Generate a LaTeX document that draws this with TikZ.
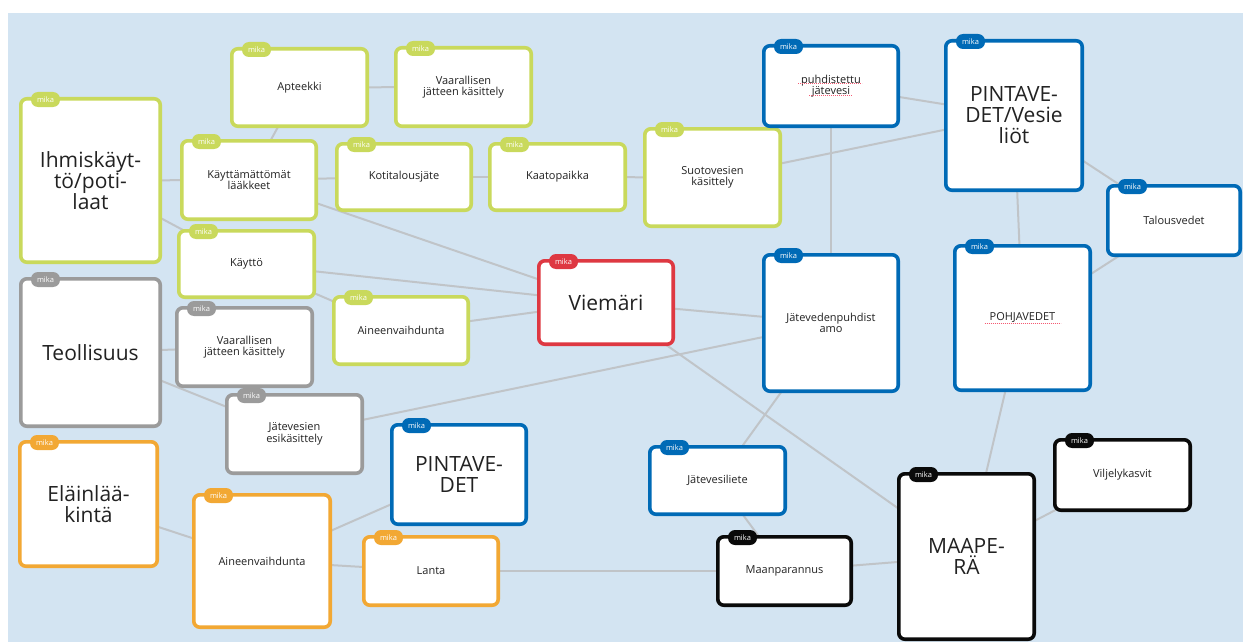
\documentclass[tikz,border=0pt]{standalone}
\usepackage{fontspec}
\setmainfont{Open Sans}
\usepackage{tikz}

\definecolor{mapbg}{RGB}{211,228,242}
\definecolor{linkgray}{RGB}{192,196,200}
\definecolor{cgreen}{RGB}{201,217,92}
\definecolor{cgray}{RGB}{155,155,155}
\definecolor{cblue}{RGB}{0,106,182}
\definecolor{cred}{RGB}{222,56,66}
\definecolor{corange}{RGB}{242,168,52}
\definecolor{cblack}{RGB}{10,10,10}
\definecolor{cardtext}{RGB}{34,34,34}
\definecolor{spellred}{RGB}{245,90,115}

\pgfdeclarelayer{back}
\pgfdeclarelayer{links}
\pgfsetlayers{back,links,main}

\tikzset{
  card/.style={draw, fill=white, line width=3.6pt, rounded corners=6pt, inner sep=0pt,
    align=center, text=cardtext, font=\fontsize{11}{11.5}\selectfont},
  big/.style={font=\fontsize{21}{21}\selectfont},
  dims/.style 2 args={minimum width=#1pt-3.6pt, minimum height=#2pt-3.6pt},
  tag/.style={fill=#1, rounded corners=7pt, minimum width=29pt, minimum height=15pt,
    inner sep=0pt, text=white, font=\fontsize{7.5}{7.5}\selectfont},
  tagged/.style={card, draw=#1, append after command={
    node[tag=#1] at ([xshift=26.5pt,yshift=-2.5pt]\tikzlastnode.north west) {mika}}},
  greencard/.style={tagged=cgreen},
  graycard/.style={tagged=cgray},
  bluecard/.style={tagged=cblue},
  redcard/.style={tagged=cred},
  orangecard/.style={tagged=corange},
  blackcard/.style={tagged=cblack},
  link/.style={draw=linkgray, line width=2pt},
  spell/.style={draw=spellred, line width=1pt, dash pattern=on 1.2pt off 0.8pt},
}

\begin{document}
\begin{tikzpicture}[x=1pt,y=-1pt]
  \useasboundingbox (0,0) rectangle (1243,642);
  \begin{pgfonlayer}{back}
    \fill[white] (0,0) rectangle (1243,642);
    \fill[mapbg] (8,13) rectangle (1243,642);
  \end{pgfonlayer}

  % ihmiskaytto
  \node[greencard, big, dims={143}{167}] (ihmis) at (90.5,180.5) {Ihmiskäyt-\\tö/poti-\\laat};
  \node[greencard, dims={139}{81}] (apteekki) at (299.5,87.5) {Apteekki};
  \node[greencard, dims={139}{82}] (vaarA) at (463.5,87) {Vaarallisen\\jätteen käsittely};
  \node[greencard, dims={138}{82}] (laakkeet) at (249,180) {Käyttämättömät\\lääkkeet};
  \node[greencard, dims={138}{70}] (kotital) at (404,177) {Kotitalousjäte};
  \node[greencard, dims={139}{70}] (kaato) at (557.5,177) {Kaatopaikka};
  \node[greencard, dims={139}{101}] (suoto) at (712.5,177.5) {Suotovesien\\käsittely};
  \node[greencard, dims={139}{70}] (kaytto) at (246.5,264) {Käyttö};
  \node[greencard, dims={138}{71}] (aineA) at (401,330.5) {Aineenvaihdunta};

  % teollisuus
  \node[graycard, big, dims={143}{151}] (teoll) at (90.5,352.5) {Teollisuus};
  \node[graycard, dims={139}{82}] (vaarB) at (244.5,347) {Vaarallisen\\jätteen käsittely};
  \node[graycard, dims={139}{82}] (esik) at (294.5,434) {Jätevesien\\esikäsittely};

  % elainlaakinta
  \node[orangecard, big, dims={141}{128}] (elain) at (88.5,504) {Eläinlää-\\kintä};
  \node[orangecard, dims={140}{136}] (aineB) at (262,561) {Aineenvaihdunta};
  \node[orangecard, dims={138}{72}] (lanta) at (431,571) {Lanta};

  \node[redcard, big, dims={138}{87}] (viemari) at (606,302.5) {Viemäri};

  % vedet
  \node[bluecard, dims={138}{84}] (puhdistettu) at (831,86) {puhdistettu\\jätevesi};
  \node[bluecard, big, dims={140}{153}] (vesiliot) at (1014,115.5) {PINTAVE-\\DET/Vesie\\liöt};
  \node[bluecard, dims={136}{73}] (talous) at (1174,220.5) {Talousvedet};
  \node[bluecard, dims={139}{148}] (pohja) at (1022.5,318) {POHJAVEDET};
  \node[bluecard, dims={138}{140}] (puhdistamo) at (831,323) {Jätevedenpuhdist\\amo};
  \node[bluecard, big, dims={138}{103}] (pintadet) at (459,474.5) {PINTAVE-\\DET};
  \node[bluecard, dims={139}{71}] (liete) at (717.5,480.5) {Jätevesiliete};

  % maapera
  \node[blackcard, dims={137}{72}] (maanpar) at (784.5,571) {Maanparannus};
  \node[blackcard, big, dims={139}{169}] (maapera) at (966.5,556.5) {MAAPE-\\RÄ};
  \node[blackcard, dims={139}{74}] (viljely) at (1122.5,475) {Viljelykasvit};

  % oikoluku
  \draw[spell] ([shift={(-33,-2)}]puhdistettu.center) -- ([shift={(31,-2)}]puhdistettu.center);
  \draw[spell] ([shift={(-22,10)}]puhdistettu.center) -- ([shift={(21,10)}]puhdistettu.center);
  \draw[spell] ([shift={(-38,5)}]pohja.center) -- ([shift={(38,5)}]pohja.center);

  \begin{pgfonlayer}{links}
    \foreach \a/\b in {apteekki/vaarA, apteekki/laakkeet, ihmis/laakkeet, ihmis/kaytto,
        laakkeet/kotital, kotital/kaato, kaato/suoto, laakkeet/viemari, kaytto/viemari,
        kaytto/aineA, aineA/viemari, viemari/puhdistamo, viemari/maapera, puhdistamo/esik,
        puhdistamo/liete, liete/maanpar, lanta/maanpar, maanpar/maapera, maapera/pohja,
        maapera/viljely, pohja/talous, pohja/vesiliot, vesiliot/talous, vesiliot/puhdistettu,
        vesiliot/suoto, puhdistettu/puhdistamo, teoll/vaarB, teoll/esik, elain/aineB,
        aineB/pintadet, aineB/lanta}
      \draw[link] (\a.center) -- (\b.center);
  \end{pgfonlayer}
\end{tikzpicture}
\end{document}
